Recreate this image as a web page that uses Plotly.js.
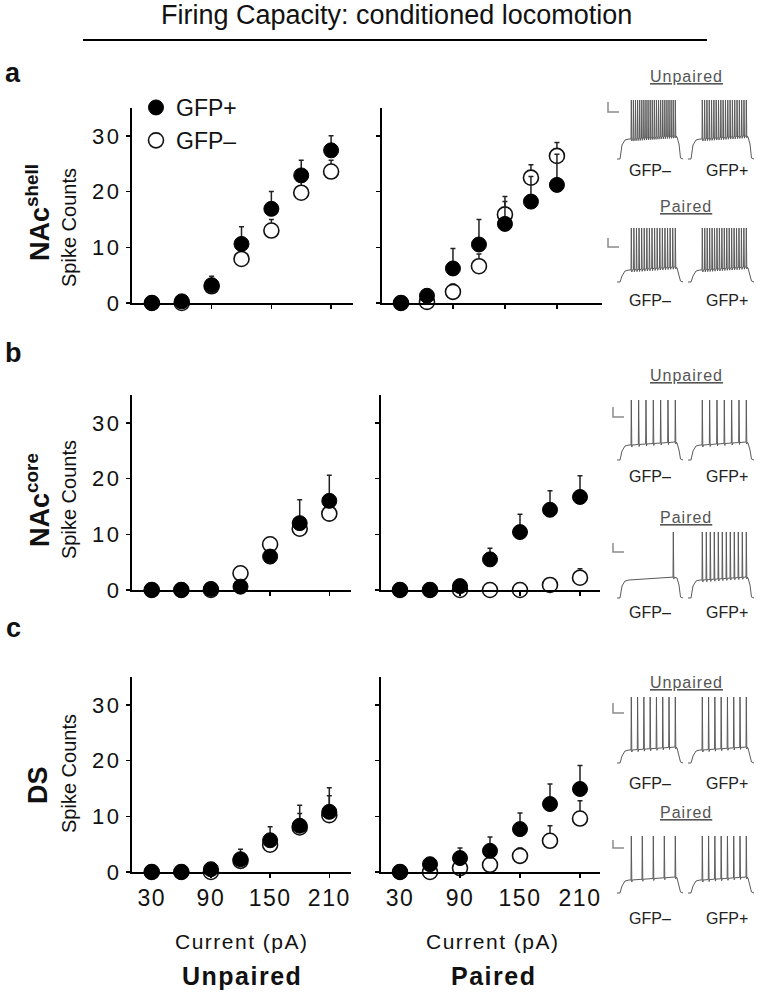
<!DOCTYPE html>
<html>
<head>
<meta charset="utf-8">
<script src="https://cdn.plot.ly/plotly-3.0.1.min.js"></script>
<style>html,body{margin:0;padding:0;background:#fff;}#chart{width:758px;height:1000px;}</style>
</head>
<body>
<div id="chart"></div>
<script>
// ---------------- DATA ----------------
const currents = [30, 60, 90, 120, 150, 180, 210];
const xTickVals = [30, 90, 150, 210];
const xTickText = ['30', '90', '150', '210'];
const yTickVals = [0, 10, 20, 30];
const yTickText = ['0', '10', '20', '30'];

// NAc shell
const shellUnpairedPos = [0, 0.3, 3.2, 10.6, 16.9, 22.9, 27.4];
const shellUnpairedPosErr = [0, 0, 1.6, 3.1, 3.1, 2.7, 2.6];
const shellUnpairedNeg = [0, 0, 3.0, 7.9, 13.0, 19.8, 23.6];
const shellUnpairedNegErr = [0, 0, 0.8, 1.5, 2.0, 2.0, 2.0];
const shellPairedPos = [0, 1.3, 6.2, 10.5, 14.2, 18.2, 21.2];
const shellPairedPosErr = [0, 1.2, 3.6, 4.5, 4.0, 4.5, 5.5];
const shellPairedNeg = [0, 0.2, 2.0, 6.6, 15.9, 22.5, 26.4];
const shellPairedNegErr = [0, 0.5, 1.4, 2.2, 3.2, 2.3, 2.4];
// NAc core
const coreUnpairedPos = [0, 0, 0.2, 0.6, 6.0, 12.0, 16.0];
const coreUnpairedPosErr = [0, 0, 0, 0, 0.8, 4.2, 4.6];
const coreUnpairedNeg = [0, 0, 0, 3.0, 8.2, 11.0, 13.7];
const coreUnpairedNegErr = [0, 0, 0, 1.1, 1.1, 1.2, 1.5];
const corePairedPos = [0, 0, 0.7, 5.5, 10.4, 14.4, 16.7];
const corePairedPosErr = [0, 0, 0.3, 2.0, 3.2, 3.4, 3.8];
const corePairedNeg = [0, 0, 0, 0, 0, 0.9, 2.2];
const corePairedNegErr = [0, 0, 0, 0, 0, 0.4, 1.6];
// DS
const dsUnpairedPos = [0, 0, 0.5, 2.3, 5.7, 8.3, 10.8];
const dsUnpairedPosErr = [0, 0, 0.3, 1.8, 2.4, 3.7, 4.3];
const dsUnpairedNeg = [0, 0, 0, 2.0, 4.9, 8.0, 10.2];
const dsUnpairedNegErr = [0, 0, 0, 1.2, 1.8, 2.5, 3.5];
const dsPairedPos = [0, 1.4, 2.5, 3.8, 7.7, 12.2, 14.9];
const dsPairedPosErr = [0, 0.5, 1.8, 2.5, 2.9, 3.6, 4.2];
const dsPairedNeg = [0, 0, 0.7, 1.3, 2.9, 5.6, 9.6];
const dsPairedNegErr = [0, 0, 0.5, 0.8, 1.4, 2.7, 3.2];

// example-trace spike counts (rows a, b, c)
const exUnpairedNegSpikes = [22, 7, 8];
const exUnpairedPosSpikes = [20, 7, 8];
const exPairedNegSpikes = [18, 1, 5];
const exPairedPosSpikes = [19, 12, 8];

const rowLabels = ['NAc<sup>shell</sup>', 'NAc<sup>core</sup>', 'DS'];
const panelLetters = ['a', 'b', 'c'];
const groupLabels = ['Unpaired', 'Paired'];
const seriesNames = ['GFP+', 'GFP\u2013'];

// ---------------- LAYOUT HELPERS ----------------
const W = 758, H = 1000;
const px = v => v / W;
const py = v => 1 - v / H;
const FONT = 'Liberation Sans, Arial, sans-serif';
const wide = (t, ls) => '<span style="letter-spacing:' + ls + 'px">' + t + '</span>';

const panels = [
  {pos: shellUnpairedPos, posErr: shellUnpairedPosErr, neg: shellUnpairedNeg, negErr: shellUnpairedNegErr, xd: [132, 353], xr: [10, 232], yd: [303, 108], left: true, row: 0},
  {pos: shellPairedPos, posErr: shellPairedPosErr, neg: shellPairedNeg, negErr: shellPairedNegErr, xd: [382, 602], xr: [8.1, 262], yd: [303, 108], left: false, row: 0},
  {pos: coreUnpairedPos, posErr: coreUnpairedPosErr, neg: coreUnpairedNeg, negErr: coreUnpairedNegErr, xd: [132, 351], xr: [10, 232], yd: [590, 395], left: true, row: 1},
  {pos: corePairedPos, posErr: corePairedPosErr, neg: corePairedNeg, negErr: corePairedNegErr, xd: [381, 600], xr: [11, 230], yd: [590, 395], left: false, row: 1},
  {pos: dsUnpairedPos, posErr: dsUnpairedPosErr, neg: dsUnpairedNeg, negErr: dsUnpairedNegErr, xd: [132, 351], xr: [10, 232], yd: [872, 677], left: true, row: 2},
  {pos: dsPairedPos, posErr: dsPairedPosErr, neg: dsPairedNeg, negErr: dsPairedNegErr, xd: [381, 600], xr: [11, 230], yd: [872, 677], left: false, row: 2}
];

const traces = [];
const layout = {
  width: W, height: H,
  margin: {l: 0, r: 0, t: 0, b: 0},
  paper_bgcolor: '#fff', plot_bgcolor: 'rgba(0,0,0,0)',
  font: {family: FONT, color: '#111'},
  showlegend: true,
  legend: {x: px(136), y: py(86), xanchor: 'left', yanchor: 'top', bgcolor: 'rgba(0,0,0,0)',
           font: {size: 23, family: FONT, color: '#111'}, itemsizing: 'trace', tracegroupgap: 0},
  annotations: [], shapes: []
};

panels.forEach((p, i) => {
  const n = i + 1;
  const xa = n === 1 ? 'x' : 'x' + n;
  const ya = n === 1 ? 'y' : 'y' + n;
  const xk = n === 1 ? 'xaxis' : 'xaxis' + n;
  const yk = n === 1 ? 'yaxis' : 'yaxis' + n;
  const errStyle = {type: 'data', symmetric: false, color: '#222', thickness: 1.5, width: 2.5, visible: true};
  traces.push({
    type: 'scatter', mode: 'markers', x: currents, y: p.neg, xaxis: xa, yaxis: ya,
    name: seriesNames[1], legendrank: 2, showlegend: i === 0, cliponaxis: false,
    marker: {symbol: 'circle', size: 15, color: '#fff', line: {color: '#111', width: 1.6}},
    error_y: Object.assign({array: p.negErr, arrayminus: p.negErr.map(() => 0)}, errStyle)
  });
  traces.push({
    type: 'scatter', mode: 'markers', x: currents, y: p.pos, xaxis: xa, yaxis: ya,
    name: seriesNames[0], legendrank: 1, showlegend: i === 0, cliponaxis: false,
    marker: {symbol: 'circle', size: 15, color: '#000', line: {color: '#000', width: 1}},
    error_y: Object.assign({array: p.posErr, arrayminus: p.posErr.map(() => 0)}, errStyle)
  });
  layout[xk] = {
    domain: [px(p.xd[0]), px(p.xd[1])], range: p.xr, anchor: ya,
    showgrid: false, zeroline: false, showline: true, linecolor: '#000', linewidth: 2,
    ticks: 'outside', ticklen: 4, tickwidth: 1.5, tickcolor: '#000',
    tickvals: xTickVals, ticktext: xTickText.map(t => wide(t, 1.5)),
    showticklabels: p.row === 2, tickfont: {size: 23, family: FONT, color: '#111'}
  };
  layout[yk] = {
    domain: [py(p.yd[0]), py(p.yd[1])], range: [0, 35], anchor: xa,
    showgrid: false, zeroline: false, showline: true, linecolor: '#000', linewidth: 2,
    ticks: 'outside', ticklen: 4, tickwidth: 1.5, tickcolor: '#000',
    tickvals: yTickVals, ticktext: yTickText.map(t => wide(t, 2.5)),
    showticklabels: p.left, tickfont: {size: 22, family: FONT, color: '#111'}
  };
});

// overlay pixel axis for example traces
layout.xaxis7 = {domain: [0, 1], range: [0, W], visible: false, anchor: 'y7', fixedrange: true};
layout.yaxis7 = {domain: [0, 1], range: [H, 0], visible: false, anchor: 'x7', fixedrange: true};

// example trace geometry [top, plateau, base] per row, upper (Unpaired) and lower (Paired)
const exGeom = [
  {up: [100, 139, 159], lo: [228, 270, 282], scaleX: 608, scaleUp: [102, 112], scaleLo: [238, 247],
   lblUp: 77, gfpUp: 170, lblLo: 207, gfpLo: 300},
  {up: [400, 445, 460], lo: [532, 580, 598], scaleX: 613, scaleUp: [407, 417], scaleLo: [543, 552],
   lblUp: 375, gfpUp: 476, lblLo: 517, gfpLo: 612},
  {up: [697, 750, 763], lo: [836, 880, 893], scaleX: 613, scaleUp: [703, 713], scaleLo: [840, 848],
   lblUp: 682, gfpUp: 783, lblLo: 812, gfpLo: 918}
];
const exStarts = [617, 688];

function waveform(x0, g, nSpikes) {
  const [top, plat, base] = g;
  const xs = [x0, x0 + 3, x0 + 5, x0 + 8];
  const ys = [base, base, plat + 6, plat + 1];
  const s0 = x0 + 14, s1 = x0 + 58;
  xs.push(s0 - 2); ys.push(plat);
  for (let k = 0; k < nSpikes; k++) {
    const p = nSpikes > 1 ? s0 + (s1 - s0) * k / (nSpikes - 1) : s1 - 2;
    const lift = -3 * (p - s0) / (s1 - s0);
    xs.push(p, p + 0.3, p + 0.8, p + 1.2);
    ys.push(plat + lift, top, plat + lift + 2, plat + lift);
  }
  xs.push(x0 + 60, x0 + 62, x0 + 63.5, x0 + 66);
  ys.push(plat - 2, plat + 5, base - 1, base);
  return {xs, ys};
}

for (let r = 0; r < 3; r++) {
  const g = exGeom[r];
  const sets = [
    [g.up, exUnpairedNegSpikes[r], exUnpairedPosSpikes[r]],
    [g.lo, exPairedNegSpikes[r], exPairedPosSpikes[r]]
  ];
  sets.forEach(([geom, nNeg, nPos]) => {
    [nNeg, nPos].forEach((nS, j) => {
      const w = waveform(exStarts[j], geom, nS);
      traces.push({type: 'scatter', mode: 'lines', x: w.xs, y: w.ys, xaxis: 'x7', yaxis: 'y7',
        showlegend: false, hoverinfo: 'skip', line: {color: '#5a5a5a', width: 1}});
    });
  });
  // scale bars
  [g.scaleUp, g.scaleLo].forEach(sc => {
    layout.shapes.push({type: 'path', xref: 'x7', yref: 'y7',
      path: `M ${g.scaleX} ${sc[0]} L ${g.scaleX} ${sc[1]} L ${g.scaleX + 11} ${sc[1]}`,
      line: {color: '#8a8a8a', width: 1.5}});
  });
  // labels
  [[g.lblUp, groupLabels[0]], [g.lblLo, groupLabels[1]]].forEach(([yy, t]) => {
    layout.annotations.push({xref: 'paper', yref: 'paper', x: px(686), y: py(yy), text: '<u>' + wide(t, 1) + '</u>',
      showarrow: false, xanchor: 'center', yanchor: 'middle', font: {size: 16, family: FONT, color: '#555'}});
  });
  [g.gfpUp, g.gfpLo].forEach(yy => {
    layout.annotations.push({xref: 'paper', yref: 'paper', x: px(650), y: py(yy), text: seriesNames[1],
      showarrow: false, xanchor: 'center', yanchor: 'middle', font: {size: 16, family: FONT, color: '#222'}});
    layout.annotations.push({xref: 'paper', yref: 'paper', x: px(727), y: py(yy), text: seriesNames[0],
      showarrow: false, xanchor: 'center', yanchor: 'middle', font: {size: 16, family: FONT, color: '#222'}});
  });
}

// titles & labels
layout.annotations.push({xref: 'paper', yref: 'paper', x: px(396), y: py(15), text: 'Firing Capacity: conditioned locomotion',
  showarrow: false, xanchor: 'center', yanchor: 'middle', font: {size: 27, family: FONT, color: '#111'}});
layout.shapes.push({type: 'line', xref: 'paper', yref: 'paper', x0: px(83), x1: px(707), y0: py(40), y1: py(40),
  line: {color: '#000', width: 2}});

const letterY = [73, 353, 628];
const rowLabelY = [213, 500, 785];
const spikeTitleY = [228, 500, 774];
for (let r = 0; r < 3; r++) {
  layout.annotations.push({xref: 'paper', yref: 'paper', x: px(13), y: py(letterY[r]), text: '<b>' + panelLetters[r] + '</b>',
    showarrow: false, xanchor: 'center', yanchor: 'middle', font: {size: 27, family: FONT, color: '#111'}});
  layout.annotations.push({xref: 'paper', yref: 'paper', x: px(38), y: py(rowLabelY[r]), text: '<b>' + rowLabels[r] + '</b>',
    showarrow: false, textangle: -90, xanchor: 'center', yanchor: 'middle', font: {size: 27, family: FONT, color: '#111'}});
  layout.annotations.push({xref: 'paper', yref: 'paper', x: px(69), y: py(spikeTitleY[r]), text: 'Spike Counts',
    showarrow: false, textangle: -90, xanchor: 'center', yanchor: 'middle', font: {size: 20, family: FONT, color: '#111'}});
}
[242, 493].forEach((xx, j) => {
  layout.annotations.push({xref: 'paper', yref: 'paper', x: px(xx), y: py(941), text: wide('Current (pA)', 1.5),
    showarrow: false, xanchor: 'center', yanchor: 'middle', font: {size: 21, family: FONT, color: '#111'}});
  layout.annotations.push({xref: 'paper', yref: 'paper', x: px(xx), y: py(976), text: '<b>' + wide(groupLabels[j], 1.5) + '</b>',
    showarrow: false, xanchor: 'center', yanchor: 'middle', font: {size: 25, family: FONT, color: '#111'}});
});

Plotly.newPlot('chart', traces, layout, {staticPlot: true, displayModeBar: false});
</script>
</body>
</html>
